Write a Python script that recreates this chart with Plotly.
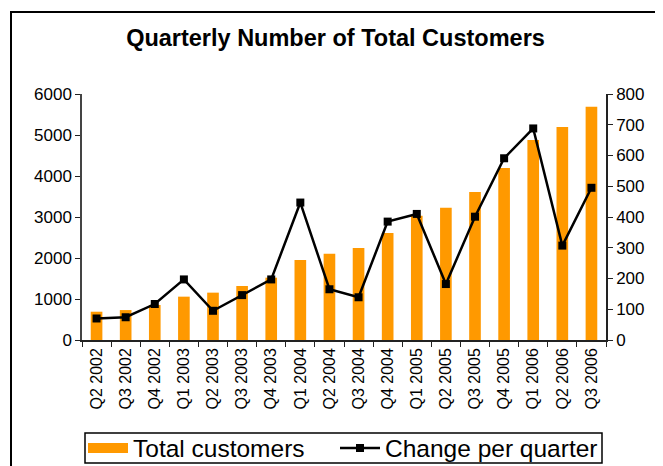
import plotly.graph_objects as go

quarters = ["Q2 2002", "Q3 2002", "Q4 2002", "Q1 2003", "Q2 2003", "Q3 2003",
            "Q4 2003", "Q1 2004", "Q2 2004", "Q3 2004", "Q4 2004", "Q1 2005",
            "Q2 2005", "Q3 2005", "Q4 2005", "Q1 2006", "Q2 2006", "Q3 2006"]
total_customers = [690, 730, 855, 1057, 1155, 1317, 1520, 1951, 2106, 2244,
                   2610, 3033, 3228, 3610, 4195, 4878, 5195, 5691]
change_per_quarter = [70, 74, 117, 197, 95, 146, 197, 447, 165, 139,
                      385, 410, 182, 401, 591, 688, 307, 495]

FONT = "Liberation Sans, Arial, sans-serif"
ORANGE = "#FF9900"

fig = go.Figure()
fig.add_trace(go.Bar(
    x=quarters, y=total_customers, name="Total customers",
    marker=dict(color=ORANGE, line=dict(width=0)), showlegend=False,
))
# legend-only entry giving a wide orange swatch
fig.add_trace(go.Scatter(
    x=[None], y=[None], name="Total customers", mode="lines",
    line=dict(color=ORANGE, width=11), hoverinfo="skip", legend="legend",
))
fig.add_trace(go.Scatter(
    x=quarters, y=change_per_quarter, name="Change per quarter",
    yaxis="y2", mode="lines+markers",
    line=dict(color="black", width=2.5),
    marker=dict(symbol="square", size=8, color="black"),
    legend="legend2",
))

# page is offset by the 8px body margin
OFF = 8
W, H = 663, 466
L, T = 82 - OFF, 94 - OFF
pw, ph = 524, 246
R, B = W - L - pw, H - T - ph

def px_x(p):
    return (p - OFF - L) / pw

def px_y(p):
    return (T + ph - (p - OFF)) / ph

n = len(quarters)
AX = "#222"

legend_common = dict(orientation="h", xanchor="left",
                     y=px_y(448), yanchor="middle",
                     font=dict(size=24.5, family=FONT),
                     bgcolor="rgba(0,0,0,0)", borderwidth=0, itemwidth=40)

fig.update_layout(
    width=W, height=H,
    margin=dict(l=L, r=R, t=T, b=B, autoexpand=False),
    paper_bgcolor="white", plot_bgcolor="white",
    font=dict(family=FONT, color="black", size=17),
    title=dict(text="<b>Quarterly Number of Total Customers</b>",
               x=(335.5 - OFF) / W, xanchor="center",
               y=1 - (38 - OFF) / H, yanchor="middle",
               font=dict(size=23.5, family=FONT)),
    bargap=0.6,
    showlegend=True,
    legend=dict(x=px_x(83), **legend_common),
    legend2=dict(x=px_x(335), **legend_common),
    xaxis=dict(type="category", range=[-0.5, n - 0.5],
               tickson="boundaries", ticks="outside",
               ticklen=5, tickcolor=AX, tickwidth=1.2,
               showline=True, linecolor=AX, linewidth=1.5,
               tickangle=-90, tickfont=dict(size=16),
               showgrid=False, zeroline=False, automargin=False),
    xaxis2=dict(overlaying="x", anchor="y", side="bottom",
                range=[-0.5, n - 0.5], tick0=-0.5, dtick=1,
                ticks="inside", ticklen=5, tickcolor=AX, tickwidth=1.2,
                showticklabels=False, showline=False, showgrid=False,
                zeroline=False),
    yaxis=dict(range=[0, 6000], dtick=1000, ticks="outside", ticklen=5,
               tickcolor=AX, tickwidth=1.2,
               showline=True, linecolor="#444", linewidth=1.5,
               showgrid=False, zeroline=False, tickfont=dict(size=17),
               automargin=False),
    yaxis3=dict(range=[0, 6000], dtick=1000, overlaying="y", side="left",
                anchor="x", ticks="inside", ticklen=5, tickcolor=AX,
                tickwidth=1.2, showticklabels=False, showline=False,
                showgrid=False, zeroline=False),
    yaxis2=dict(range=[0, 800], dtick=100, overlaying="y", side="right",
                ticks="outside", ticklen=5, tickcolor=AX, tickwidth=1.2,
                showline=True, linecolor=AX, linewidth=1.5,
                showgrid=False, zeroline=False, tickfont=dict(size=17),
                automargin=False),
    yaxis4=dict(range=[0, 800], dtick=100, overlaying="y", side="right",
                anchor="x", ticks="inside", ticklen=5, tickcolor=AX,
                tickwidth=1.2, showticklabels=False, showline=False,
                showgrid=False, zeroline=False),
    shapes=[
        dict(type="rect", xref="paper", yref="paper",
             x0=px_x(11), x1=px_x(661), y0=px_y(490), y1=px_y(12),
             line=dict(color="black", width=2), fillcolor="rgba(0,0,0,0)",
             layer="above"),
        dict(type="rect", xref="paper", yref="paper",
             x0=px_x(85), x1=px_x(602), y0=px_y(463), y1=px_y(433),
             line=dict(color="black", width=1.5), fillcolor="rgba(0,0,0,0)",
             layer="above"),
    ],
)

fig.write_html("out.html")
